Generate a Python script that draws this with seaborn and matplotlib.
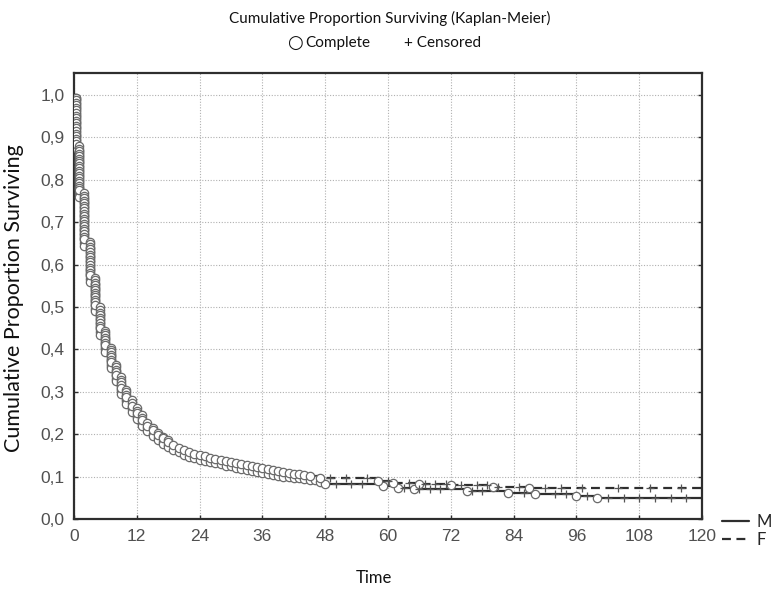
import numpy as np
import pandas as pd
import matplotlib
matplotlib.use("Agg")
import matplotlib.pyplot as plt
import seaborn as sns
from matplotlib.ticker import FuncFormatter
from matplotlib.lines import Line2D

# ---------------- data ----------------
m_times = [0.4, 1, 2, 3, 4, 5, 6, 7, 8, 9, 10, 11, 12, 13, 14, 15, 16, 17, 18, 19, 20, 21,
           22, 23, 24, 25, 26, 27, 28, 29, 30, 31, 32, 33, 34, 35, 36, 37, 38, 39, 40, 41,
           42, 43, 44, 45, 46, 47, 48, 59, 62, 65, 75, 83, 88, 96, 100]
m_surv = [0.875, 0.76, 0.645, 0.56, 0.49, 0.435, 0.395, 0.355, 0.325, 0.295, 0.272, 0.252,
          0.235, 0.22, 0.207, 0.196, 0.186, 0.178, 0.17, 0.163, 0.157, 0.151,
          0.147, 0.143, 0.14, 0.137, 0.134, 0.131, 0.129, 0.126, 0.124, 0.121, 0.119, 0.116,
          0.114, 0.111, 0.109, 0.106, 0.104, 0.102, 0.1, 0.098, 0.097, 0.096, 0.094, 0.093,
          0.092, 0.088, 0.083, 0.078, 0.073, 0.071, 0.067, 0.062, 0.058, 0.054, 0.05]
m_events = [20, 19, 19, 14, 12, 9, 7, 7, 5, 5, 4, 3, 3, 3, 2, 2, 2, 2, 2, 1, 1, 1,
            1, 1, 1, 1, 1, 1, 1, 1, 1, 1, 1, 1, 1, 1, 1, 1, 1, 1, 1, 1,
            1, 1, 1, 1, 1, 1, 1, 1, 1, 1, 1, 1, 1, 1, 1]
m_censored = [50, 53, 55, 63, 66, 68, 70, 76, 78, 86, 92, 94, 98, 102, 105, 108, 111, 114, 117]

f_times = [0.4, 1, 2, 3, 4, 5, 6, 7, 8, 9, 10, 11, 12, 13, 14, 15, 16, 17, 18, 19, 20, 21,
           22, 23, 24, 25, 26, 27, 28, 29, 30, 31, 32, 33, 34, 35, 36, 37, 38, 39, 40, 41,
           42, 43, 44, 45, 47, 58, 61, 66, 72, 80, 87]
f_surv = [0.885, 0.775, 0.66, 0.575, 0.505, 0.45, 0.41, 0.37, 0.34, 0.31, 0.287, 0.267,
          0.25, 0.234, 0.22, 0.209, 0.199, 0.19, 0.182, 0.175, 0.168, 0.162,
          0.158, 0.154, 0.151, 0.148, 0.145, 0.142, 0.14, 0.137, 0.135, 0.132, 0.13, 0.127,
          0.125, 0.122, 0.12, 0.117, 0.115, 0.113, 0.111, 0.109, 0.107, 0.105, 0.104, 0.102,
          0.096, 0.09, 0.085, 0.082, 0.08, 0.076, 0.072]
f_events = [19, 19, 19, 14, 12, 9, 7, 7, 5, 5, 4, 3, 3, 3, 2, 2, 2, 2, 2, 1, 1, 1,
            1, 1, 1, 1, 1, 1, 1, 1, 1, 1, 1, 1, 1, 1, 1, 1, 1, 1, 1, 1,
            1, 1, 1, 1, 1, 1, 1, 1, 1, 1, 1]
f_censored = [49, 52, 56, 60, 64, 67, 69, 71, 74, 77, 79, 81, 85, 90, 93, 97, 104, 110, 116]

groups = ["M", "F"]
x_ticks = [0, 12, 24, 36, 48, 60, 72, 84, 96, 108, 120]
y_ticks = [0.0, 0.1, 0.2, 0.3, 0.4, 0.5, 0.6, 0.7, 0.8, 0.9, 1.0]
t_max = 120

# ---------------- build tables ----------------
def step_table(name, times, surv):
    t = [0.0] + list(times) + [t_max]
    s = [1.0] + list(surv) + [surv[-1]]
    return pd.DataFrame({"time": t, "surv": s, "group": name})

def event_points(name, times, surv, events):
    rows = []
    prev = 1.0
    for t, s, n in zip(times, surv, events):
        for k in range(1, n + 1):
            rows.append((t, prev - (prev - s) * k / n, name))
        prev = s
    return pd.DataFrame(rows, columns=["time", "surv", "group"])

def censor_points(name, times, surv, cens):
    tt = np.array(times)
    ss = np.array(surv)
    vals = [ss[tt <= c][-1] if np.any(tt <= c) else 1.0 for c in cens]
    return pd.DataFrame({"time": cens, "surv": vals, "group": name})

steps = pd.concat([step_table("M", m_times, m_surv), step_table("F", f_times, f_surv)],
                  ignore_index=True)
events = pd.concat([event_points("M", m_times, m_surv, m_events),
                    event_points("F", f_times, f_surv, f_events)], ignore_index=True)
cens = pd.concat([censor_points("M", m_times, m_surv, m_censored),
                  censor_points("F", f_times, f_surv, f_censored)], ignore_index=True)

# ---------------- plot ----------------
sns.set_style("white")
plt.rcParams["font.family"] = ["Lato", "DejaVu Sans"]

fig = plt.figure(figsize=(7.8, 5.9), dpi=100)
ax = fig.add_axes([74 / 780, 1 - 519 / 590, 628 / 780, 446 / 590])

dark = "#2e2e2e"
sns.lineplot(data=steps, x="time", y="surv", style="group", style_order=groups,
             dashes={"M": "", "F": (4, 2.5)}, color=dark, linewidth=1.6,
             drawstyle="steps-post", estimator=None, sort=False, legend=False,
             ax=ax, zorder=2)
sns.scatterplot(data=events, x="time", y="surv", marker="o", s=36,
                facecolor="white", edgecolor="#6a6a6a", linewidth=0.9,
                legend=False, ax=ax, zorder=3)
sns.scatterplot(data=cens, x="time", y="surv", marker="+", s=40,
                color="#555555", linewidth=0.9, legend=False, ax=ax, zorder=3)

ax.set_xlim(0, t_max)
ax.set_ylim(0, 1.052)
ax.set_xticks(x_ticks)
ax.set_yticks(y_ticks)
ax.yaxis.set_major_formatter(FuncFormatter(lambda v, p: f"{v:.1f}".replace(".", ",")))
ax.grid(True, linestyle=(0, (1, 1.5)), color="#b0b0b0", linewidth=0.8)
for sp in ax.spines.values():
    sp.set_visible(True)
    sp.set_color(dark)
    sp.set_linewidth(1.6)
ax.tick_params(axis="both", direction="in", length=3, width=1, color=dark,
               labelsize=12.5, labelcolor="#505050", pad=7,
               right=True, left=True, bottom=True)
for lab in ax.get_xticklabels() + ax.get_yticklabels():
    lab.set_fontfamily(["Liberation Sans", "DejaVu Sans"])
ax.set_xlabel("")
ax.set_ylabel("")

txt = "#111111"
fig.text(0.5, 0.969, "Cumulative Proportion Surviving (Kaplan-Meier)",
         ha="center", va="center", fontsize=11, color=txt)
fig.text(287 / 780, 0.927, "\u25cb", ha="left", va="center", fontsize=13,
         color=txt, family=["DejaVu Sans"])
fig.text(305 / 780, 0.927, "Complete", ha="left", va="center", fontsize=11, color=txt)
fig.text(404 / 780, 0.927, "+ Censored", ha="left", va="center", fontsize=11, color=txt)
fig.text(14 / 780, 1 - 298 / 590, "Cumulative Proportion Surviving", rotation=90,
         ha="center", va="center", fontsize=15.5, color=txt)
fig.text(374 / 780, 1 - 578 / 590, "Time", ha="center", va="center",
         fontsize=12, color=txt)

handles = [Line2D([], [], color=dark, linewidth=1.6, linestyle="-"),
           Line2D([], [], color=dark, linewidth=1.6, linestyle=(0, (4, 2.5)))]
fig.legend(handles, groups, loc="center left", bbox_to_anchor=(722 / 780, 1 - 531 / 590),
           frameon=False, fontsize=12, handlelength=1.6, handletextpad=0.45,
           labelspacing=0.1, borderpad=0, borderaxespad=0)

fig.savefig("out.png", dpi=100)
